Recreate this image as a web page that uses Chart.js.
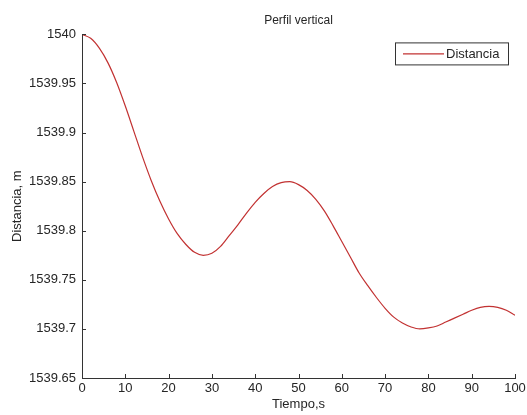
<!DOCTYPE html>
<html>
<head>
<meta charset="utf-8">
<title>Perfil vertical</title>
<script src="https://cdn.jsdelivr.net/npm/chart.js@4/dist/chart.umd.min.js"></script>
<style>
  html, body { margin: 0; padding: 0; background: #fff; }
  #wrap { width: 527px; height: 415px; }
</style>
</head>
<body>
<div id="wrap"><canvas id="perfil" width="527" height="415"></canvas></div>
<script>
// tiempo (s) y distancia (m) del perfil vertical
const tiempo = [0, 2, 4, 6, 8, 10, 12, 14, 16, 18, 20, 22, 24, 26, 28, 30, 32, 34, 36, 38, 40,
    42, 44, 46, 48, 50, 52, 54, 56, 58, 60, 62, 64, 66, 68, 70, 72, 74, 76, 78, 80,
    82, 84, 86, 88, 90, 92, 94, 96, 98, 100];
const distancia = [1540.000, 1539.996, 1539.986, 1539.971, 1539.951, 1539.927, 1539.901, 1539.875,
    1539.851, 1539.830, 1539.812, 1539.797, 1539.786, 1539.778, 1539.775, 1539.777, 1539.784,
    1539.795, 1539.806, 1539.818, 1539.829, 1539.838, 1539.845, 1539.849, 1539.850, 1539.847,
    1539.841, 1539.832, 1539.820, 1539.805, 1539.789, 1539.773, 1539.757, 1539.744, 1539.732,
    1539.721, 1539.712, 1539.706, 1539.702, 1539.700, 1539.701, 1539.703, 1539.707, 1539.711,
    1539.715, 1539.719, 1539.722, 1539.723, 1539.722, 1539.719, 1539.714];
const xTicks = [0, 10, 20, 30, 40, 50, 60, 70, 80, 90, 100];
const yTicks = [1539.65, 1539.7, 1539.75, 1539.8, 1539.85, 1539.9, 1539.95, 1540];

const FONT = 'Liberation Sans, Arial, Helvetica, sans-serif';
const INK = '#262626';
const AXIS = '#333';
const LINE = '#c23232';

// ticks hacia dentro, como en la figura original
const inwardTicks = {
    id: 'inwardTicks',
    afterDraw(chart) {
        const { ctx, chartArea: a, scales } = chart;
        ctx.save();
        ctx.strokeStyle = AXIS;
        ctx.lineWidth = 1;
        ctx.beginPath();
        xTicks.forEach(v => {
            const px = Math.round(scales.x.getPixelForValue(v)) + 0.5;
            ctx.moveTo(px, a.bottom);
            ctx.lineTo(px, a.bottom - 4);
        });
        yTicks.forEach(v => {
            const py = Math.round(scales.y.getPixelForValue(v)) + 0.5;
            ctx.moveTo(a.left, py);
            ctx.lineTo(a.left + 4, py);
        });
        ctx.stroke();
        ctx.restore();
    }
};

// leyenda en recuadro, esquina superior derecha
const boxLegend = {
    id: 'boxLegend',
    afterDraw(chart) {
        const { ctx, chartArea: a } = chart;
        const ds = chart.data.datasets[0];
        const w = 113, h = 22;
        const x = a.right - 7 - w, y = a.top + 8;
        ctx.save();
        ctx.fillStyle = '#fff';
        ctx.fillRect(x, y, w, h);
        ctx.strokeStyle = AXIS;
        ctx.lineWidth = 1;
        ctx.strokeRect(x + 0.5, y + 0.5, w, h);
        ctx.strokeStyle = ds.borderColor;
        ctx.lineWidth = 1.2;
        ctx.beginPath();
        ctx.moveTo(x + 8, y + 11.5);
        ctx.lineTo(x + 49, y + 11.5);
        ctx.stroke();
        ctx.fillStyle = INK;
        ctx.font = '13px ' + FONT;
        ctx.textBaseline = 'middle';
        ctx.fillText(ds.label, x + 51, y + 12);
        ctx.restore();
    }
};

new Chart(document.getElementById('perfil'), {
    type: 'line',
    data: {
        datasets: [{
            label: 'Distancia',
            data: tiempo.map((t, i) => ({ x: t, y: distancia[i] })),
            borderColor: LINE,
            borderWidth: 1.2,
            pointRadius: 0,
            cubicInterpolationMode: 'monotone',
            fill: false
        }]
    },
    options: {
        responsive: false,
        animation: false,
        layout: { padding: { left: 0, right: 12, top: 0, bottom: 0 } },
        plugins: {
            legend: { display: false },
            tooltip: { enabled: false },
            title: {
                display: true,
                text: 'Perfil vertical',
                fullSize: false,
                color: INK,
                font: { family: FONT, size: 12, weight: 'normal' },
                padding: { top: 13, bottom: 7 }
            }
        },
        scales: {
            x: {
                type: 'linear',
                min: 0,
                max: 100,
                afterBuildTicks: s => { s.ticks = xTicks.map(v => ({ value: v })); },
                afterFit: s => { s.height = 37; s.paddingLeft = 0; s.paddingRight = 0; },
                grid: { display: false, drawTicks: false },
                border: { display: true, color: AXIS, width: 1 },
                ticks: {
                    color: INK,
                    font: { family: FONT, size: 13 },
                    padding: 3,
                    autoSkip: false,
                    maxRotation: 0
                },
                title: {
                    display: true,
                    text: 'Tiempo,s',
                    color: INK,
                    font: { family: FONT, size: 13 },
                    padding: { top: 0, bottom: 3 }
                }
            },
            y: {
                type: 'linear',
                min: 1539.65,
                max: 1540,
                afterBuildTicks: s => { s.ticks = yTicks.map(v => ({ value: v })); },
                afterFit: s => { s.width = 82; },
                grid: { display: false, drawTicks: false },
                border: { display: true, color: AXIS, width: 1 },
                ticks: {
                    color: INK,
                    font: { family: FONT, size: 13 },
                    padding: 6,
                    callback: v => String(parseFloat(Number(v).toFixed(2)))
                },
                title: {
                    display: true,
                    text: 'Distancia, m',
                    color: INK,
                    font: { family: FONT, size: 13 },
                    padding: { top: 10, bottom: 0 }
                }
            }
        }
    },
    plugins: [inwardTicks, boxLegend]
});
</script>
</body>
</html>
